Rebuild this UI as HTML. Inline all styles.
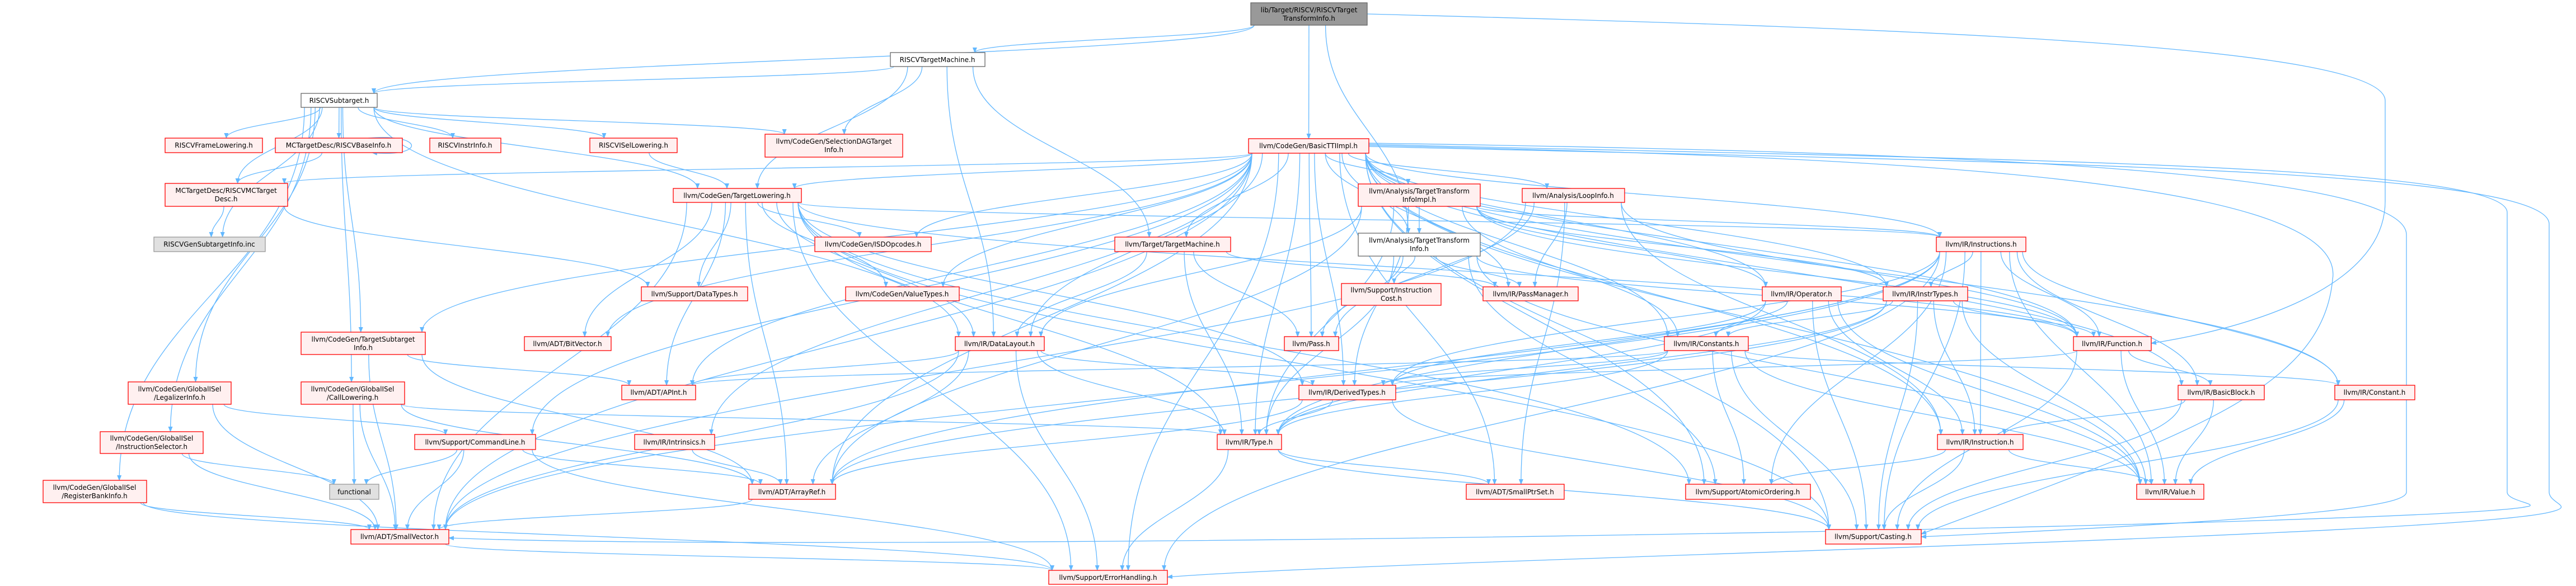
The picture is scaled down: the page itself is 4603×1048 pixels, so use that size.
<!DOCTYPE html>
<html><head><meta charset="utf-8">
<style>
html,body{margin:0;padding:0;background:#fff;}
svg{display:block;}
text{font-family:"DejaVu Sans","Liberation Sans",sans-serif;font-size:12px;fill:#000;text-anchor:middle;}
.r{fill:#fff0f0;stroke:#ff0000;stroke-width:1.3;}
.w{fill:#ffffff;stroke:#666666;stroke-width:1.3;}
.g{fill:#e0e0e0;stroke:#999999;stroke-width:1.3;}
.t{fill:#999999;stroke:#666666;stroke-width:1.3;}
</style></head>
<body>
<svg id="s" width="4603" height="1048" viewBox="0 0 4603 1048" xmlns="http://www.w3.org/2000/svg">
<defs><marker id="a" markerWidth="10" markerHeight="8" refX="9" refY="4" orient="auto" markerUnits="userSpaceOnUse"><path d="M0,0 L10,4 L0,8 z" fill="#63b8ff"/></marker></defs>
<g id="edges" fill="none" stroke="#63b8ff" stroke-width="1.3">
<path d="M2446,262 C3600,290 4550,300 4555,400 L4555,880 C4555,900 4600,905 4560,915 C4400,960 2500,1000 2086,1032" marker-end="url(#a)"/>
<path d="M2446,258 C3500,285 4480,290 4480,380 L4480,880 C4480,895 4530,900 4520,905 C4400,940 1500,990 802,962" marker-end="url(#a)"/>
<path d="M2446,256 C3400,270 4300,300 4300,420 L4300,880 C4300,900 4200,925 3433,960" marker-end="url(#a)"/>
<path d="M2446,260 C3300,280 4200,310 4168,500 C4150,700 3900,780 3433,955" marker-end="url(#a)"/>
<path d="M2443,25 C3400,50 4262,80 4262,180 L4262,360 C4262,520 4000,590 3844,614" marker-end="url(#a)"/>
</g>
<g id="nodes">
<rect id="top" class="t" x="2235" y="5" width="208" height="40"/><text x="2339" y="22">lib/Target/RISCV/RISCVTarget</text><text x="2339" y="37">TransformInfo.h</text>
<rect id="tm" class="w" x="1591" y="94" width="169" height="25"/><text x="1675" y="111">RISCVTargetMachine.h</text>
<rect id="st" class="w" x="538" y="167" width="136" height="25"/><text x="606" y="184">RISCVSubtarget.h</text>
<rect id="fl" class="r" x="295" y="247" width="174" height="26"/><text x="382" y="264">RISCVFrameLowering.h</text>
<rect id="bi" class="r" x="492" y="247" width="227" height="26"/><text x="605" y="264">MCTargetDesc/RISCVBaseInfo.h</text>
<rect id="ii" class="r" x="768" y="247" width="127" height="26"/><text x="831" y="264">RISCVInstrInfo.h</text>
<rect id="isl" class="r" x="1054" y="247" width="156" height="26"/><text x="1132" y="264">RISCVISelLowering.h</text>
<rect id="sdag" class="r" x="1367" y="240" width="246" height="41"/><text x="1490" y="257">llvm/CodeGen/SelectionDAGTarget</text><text x="1490" y="272">Info.h</text>
<rect id="btti" class="r" x="2231" y="248" width="215" height="26"/><text x="2338" y="265">llvm/CodeGen/BasicTTIImpl.h</text>
<rect id="mcd" class="r" x="295" y="328" width="219" height="41"/><text x="404" y="345">MCTargetDesc/RISCVMCTarget</text><text x="404" y="360">Desc.h</text>
<rect id="tl" class="r" x="1203" y="337" width="229" height="25"/><text x="1317" y="354">llvm/CodeGen/TargetLowering.h</text>
<rect id="ttii" class="r" x="2427" y="329" width="218" height="40"/><text x="2536" y="346">llvm/Analysis/TargetTransform</text><text x="2536" y="361">InfoImpl.h</text>
<rect id="li" class="r" x="2720" y="337" width="183" height="25"/><text x="2811" y="354">llvm/Analysis/LoopInfo.h</text>
<rect id="gen" class="g" x="275" y="424" width="199" height="26"/><text x="374" y="441">RISCVGenSubtargetInfo.inc</text>
<rect id="isd" class="r" x="1456" y="424" width="208" height="26"/><text x="1560" y="441">llvm/CodeGen/ISDOpcodes.h</text>
<rect id="tgm" class="r" x="1992" y="424" width="207" height="26"/><text x="2095" y="441">llvm/Target/TargetMachine.h</text>
<rect id="tti" class="w" x="2427" y="417" width="218" height="41"/><text x="2536" y="434">llvm/Analysis/TargetTransform</text><text x="2536" y="449">Info.h</text>
<rect id="ins" class="r" x="3460" y="424" width="160" height="26"/><text x="3540" y="441">llvm/IR/Instructions.h</text>
<rect id="dt" class="r" x="1146" y="513" width="190" height="25"/><text x="1241" y="530">llvm/Support/DataTypes.h</text>
<rect id="vt" class="r" x="1511" y="513" width="203" height="25"/><text x="1612" y="530">llvm/CodeGen/ValueTypes.h</text>
<rect id="ic" class="r" x="2397" y="507" width="178" height="39"/><text x="2486" y="523">llvm/Support/Instruction</text><text x="2486" y="538">Cost.h</text>
<rect id="pm" class="r" x="2650" y="513" width="170" height="25"/><text x="2735" y="530">llvm/IR/PassManager.h</text>
<rect id="op" class="r" x="3149" y="513" width="141" height="25"/><text x="3219" y="530">llvm/IR/Operator.h</text>
<rect id="it" class="r" x="3365" y="513" width="151" height="25"/><text x="3440" y="530">llvm/IR/InstrTypes.h</text>
<rect id="tsi" class="r" x="538" y="594" width="222" height="40"/><text x="649" y="611">llvm/CodeGen/TargetSubtarget</text><text x="649" y="626">Info.h</text>
<rect id="bv" class="r" x="937" y="602" width="155" height="25"/><text x="1014" y="619">llvm/ADT/BitVector.h</text>
<rect id="dl" class="r" x="1707" y="602" width="159" height="25"/><text x="1786" y="619">llvm/IR/DataLayout.h</text>
<rect id="pass" class="r" x="2295" y="602" width="97" height="25"/><text x="2343" y="619">llvm/Pass.h</text>
<rect id="con" class="r" x="2974" y="602" width="150" height="25"/><text x="3049" y="619">llvm/IR/Constants.h</text>
<rect id="fn" class="r" x="3705" y="602" width="139" height="25"/><text x="3774" y="619">llvm/IR/Function.h</text>
<rect id="lg" class="r" x="229" y="683" width="184" height="40"/><text x="321" y="700">llvm/CodeGen/GlobalISel</text><text x="321" y="715">/LegalizerInfo.h</text>
<rect id="cl" class="r" x="538" y="683" width="185" height="40"/><text x="630" y="700">llvm/CodeGen/GlobalISel</text><text x="630" y="715">/CallLowering.h</text>
<rect id="apint" class="r" x="1111" y="689" width="132" height="26"/><text x="1177" y="706">llvm/ADT/APInt.h</text>
<rect id="der" class="r" x="2321" y="689" width="173" height="26"/><text x="2407" y="706">llvm/IR/DerivedTypes.h</text>
<rect id="bb" class="r" x="3892" y="689" width="154" height="26"/><text x="3969" y="706">llvm/IR/BasicBlock.h</text>
<rect id="cst" class="r" x="4172" y="689" width="143" height="26"/><text x="4243" y="706">llvm/IR/Constant.h</text>
<rect id="is" class="r" x="179" y="772" width="184" height="39"/><text x="271" y="788">llvm/CodeGen/GlobalISel</text><text x="271" y="803">/InstructionSelector.h</text>
<rect id="cmd" class="r" x="741" y="777" width="216" height="27"/><text x="849" y="795">llvm/Support/CommandLine.h</text>
<rect id="intr" class="r" x="1134" y="777" width="143" height="27"/><text x="1205" y="795">llvm/IR/Intrinsics.h</text>
<rect id="type" class="r" x="2175" y="777" width="115" height="27"/><text x="2232" y="795">llvm/IR/Type.h</text>
<rect id="inst" class="r" x="3462" y="777" width="153" height="27"/><text x="3538" y="795">llvm/IR/Instruction.h</text>
<rect id="rbi" class="r" x="77" y="859" width="185" height="40"/><text x="169" y="876">llvm/CodeGen/GlobalISel</text><text x="169" y="891">/RegisterBankInfo.h</text>
<rect id="func" class="g" x="589" y="866" width="88" height="27"/><text x="633" y="884">functional</text>
<rect id="ar" class="r" x="1338" y="866" width="155" height="27"/><text x="1415" y="884">llvm/ADT/ArrayRef.h</text>
<rect id="spt" class="r" x="2620" y="866" width="175" height="27"/><text x="2707" y="884">llvm/ADT/SmallPtrSet.h</text>
<rect id="ao" class="r" x="3012" y="866" width="223" height="27"/><text x="3123" y="884">llvm/Support/AtomicOrdering.h</text>
<rect id="val" class="r" x="3818" y="866" width="120" height="27"/><text x="3878" y="884">llvm/IR/Value.h</text>
<rect id="sv" class="r" x="627" y="947" width="175" height="26"/><text x="714" y="964">llvm/ADT/SmallVector.h</text>
<rect id="cast" class="r" x="3262" y="947" width="171" height="26"/><text x="3347" y="964">llvm/Support/Casting.h</text>
<rect id="eh" class="r" x="1874" y="1020" width="212" height="25"/><text x="1980" y="1037">llvm/Support/ErrorHandling.h</text>
</g>
</svg>
<script>
(function(){
var E="top>tm top>st top>btti top>tti tm>st tm>sdag tm>tgm tm>dl tm>tl "+
"st>fl st>bi st>ii st>isl st>sdag st>mcd st>gen st>tsi st>lg st>cl st>is st>rbi st>dl st>tl "+
"bi>mcd mcd>gen mcd>dt isl>tl "+
"btti>ttii btti>tti btti>li btti>ins btti>op btti>it btti>con btti>fn btti>der btti>type btti>bb btti>cst btti>val btti>ar btti>sv btti>eh btti>cast btti>dl btti>tl btti>tsi btti>tgm btti>isd btti>vt btti>bv btti>apint btti>mcd btti>intr btti>spt btti>ao btti>inst btti>pm btti>pass btti>cmd "+
"tl>isd tl>vt tl>dt tl>dl tl>apint tl>ar tl>sv tl>eh tl>type tl>der tl>ins tl>fn tl>ao tl>cast tl>bv "+
"ttii>tti ttii>dl ttii>ar ttii>type ttii>fn ttii>ins ttii>op ttii>it ttii>con ttii>der "+
"tti>ic tti>pm tti>pass tti>fn tti>type tti>ao tti>val "+
"li>pm li>pass li>spt li>sv li>fn li>inst "+
"tgm>dl tgm>pass tgm>type tgm>pm "+
"ins>it ins>inst ins>fn ins>bb ins>cst ins>val ins>cast ins>ao ins>type ins>der ins>ar ins>sv ins>eh "+
"it>con it>inst it>fn it>type it>cast it>val it>ar "+
"op>con op>inst op>der op>type op>cast op>val "+
"con>der con>cst con>type con>apint con>ao con>val con>cast "+
"fn>bb fn>der fn>val fn>cast "+
"dl>der dl>type dl>eh dl>ar dl>sv dl>apint "+
"tsi>ar tsi>sv tsi>apint cl>ar cl>sv cl>func cl>type lg>cmd lg>sv is>func is>sv rbi>sv rbi>eh "+
"cmd>func cmd>ar cmd>sv cmd>eh intr>ar type>eh type>spt type>cast inst>ao inst>cast inst>val "+
"bb>val bb>inst bb>cast cst>val cst>cast der>type der>cast der>ar ar>sv sv>eh";
function R(id){var r=document.getElementById(id);return{x:+r.getAttribute('x'),y:+r.getAttribute('y'),w:+r.getAttribute('width'),h:+r.getAttribute('height')};}
var g=document.getElementById('edges'),NS="http://www.w3.org/2000/svg";
E.split(/\s+/).forEach(function(p){
 var q=p.split('>');var s=R(q[0]),t=R(q[1]);
 var scx=s.x+s.w/2,tcx=t.x+t.w/2,d;
 var dy=t.y-(s.y+s.h);
 if(dy>8){
  var sx=scx+(tcx-scx)*0.15;sx=Math.max(s.x+6,Math.min(s.x+s.w-6,sx));
  var tx=tcx+(scx-tcx)*0.1;tx=Math.max(t.x+6,Math.min(t.x+t.w-6,tx));
  var sy=s.y+s.h,ty=t.y;
  d="M"+sx+","+sy+" C"+sx+","+(sy+dy*0.45)+" "+tx+","+(ty-dy*0.45)+" "+tx+","+ty;
 } else {
  var sy2=s.y+s.h/2,ty2=t.y+t.h/2,sx2,tx2;
  if(tcx<scx){sx2=s.x;tx2=t.x+t.w;}else{sx2=s.x+s.w;tx2=t.x;}
  var mx=(sx2+tx2)/2;
  d="M"+sx2+","+sy2+" C"+mx+","+sy2+" "+mx+","+ty2+" "+tx2+","+ty2;
 }
 var e=document.createElementNS(NS,'path');e.setAttribute('d',d);e.setAttribute('marker-end','url(#a)');g.appendChild(e);
});
var sl=document.createElementNS(NS,'path');sl.setAttribute('d','M658,247 C760,238 760,282 665,273');sl.setAttribute('marker-end','url(#a)');g.appendChild(sl);
})();
</script>
</body></html>
